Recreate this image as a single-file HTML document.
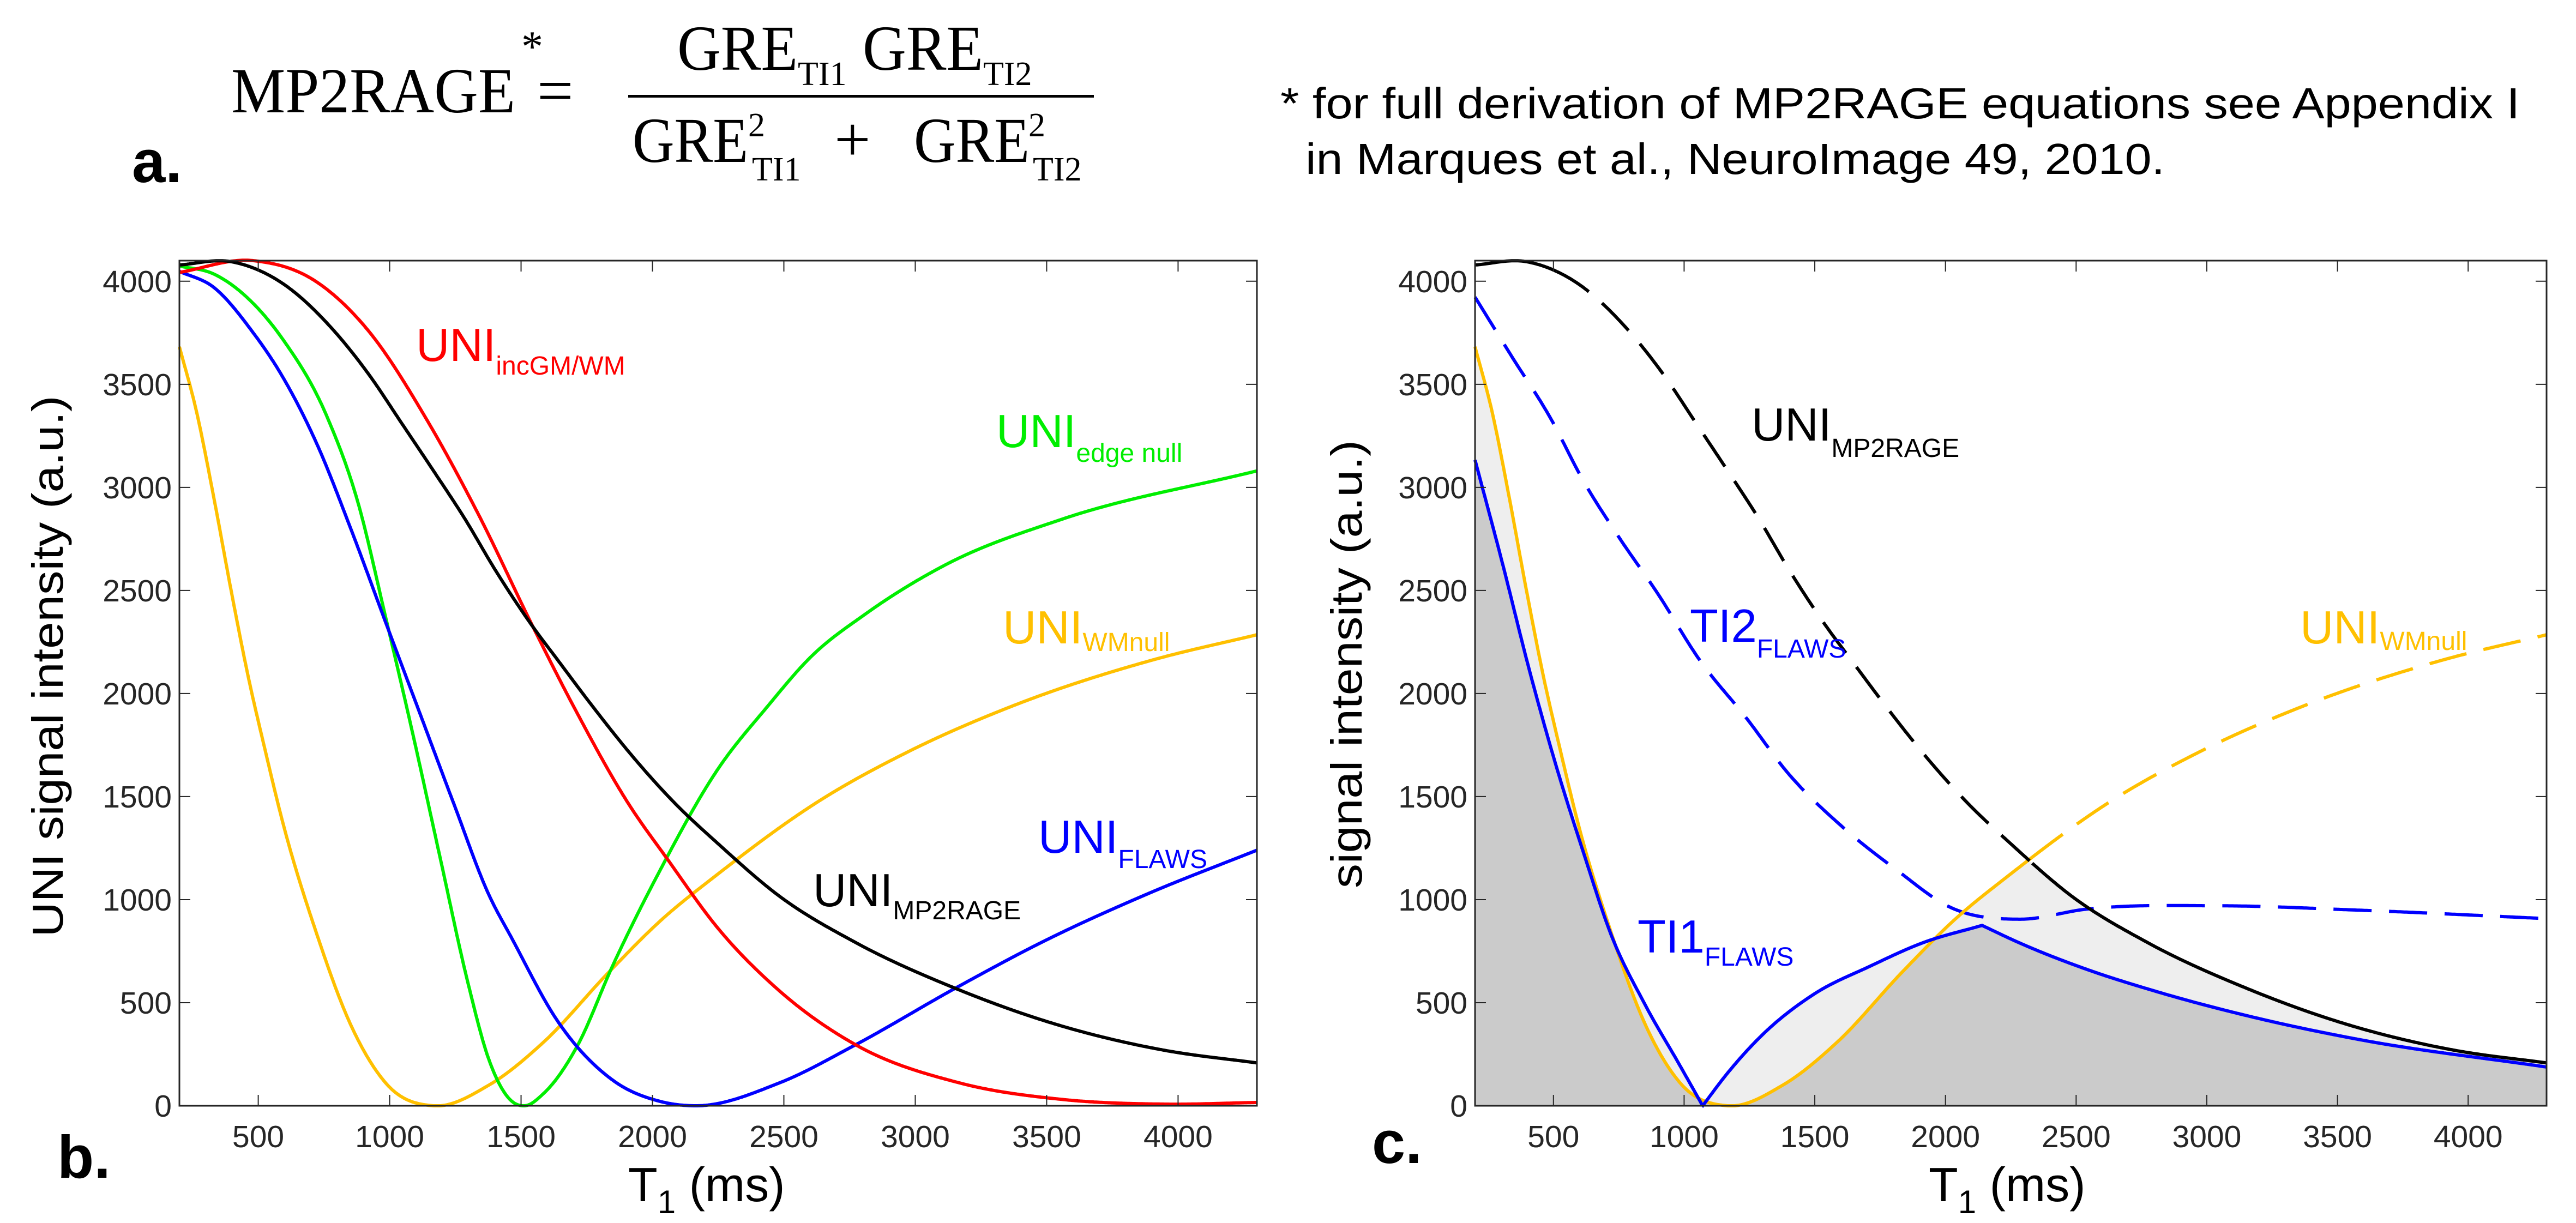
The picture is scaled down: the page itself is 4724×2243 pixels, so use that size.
<!DOCTYPE html>
<html><head><meta charset="utf-8"><style>
html,body{margin:0;padding:0;background:#fff}
svg{display:block}
text{font-family:"Liberation Sans",sans-serif}
.serif{font-family:"Liberation Serif",serif}
.tick{font-size:57px;fill:#262626}
</style></head><body>
<svg id="fig" width="4724" height="2243" viewBox="0 0 4724 2243" xmlns="http://www.w3.org/2000/svg">
<g>
<text x="242" y="334" font-size="110" font-weight="bold">a.</text>
<text class="serif" x="424" y="206" font-size="118" textLength="521" lengthAdjust="spacingAndGlyphs">MP2RAGE</text>
<text class="serif" x="956" y="112" font-size="80">*</text>
<text class="serif" x="985" y="206" font-size="118">=</text>
<rect x="1152" y="174" width="854" height="5" fill="#000"/>
<g>
<text class="serif" x="1242" y="128" font-size="118" textLength="221" lengthAdjust="spacingAndGlyphs">GRE</text>
<text class="serif" x="1463" y="156" font-size="62">TI1</text>
<text class="serif" x="1582" y="128" font-size="118" textLength="221" lengthAdjust="spacingAndGlyphs">GRE</text>
<text class="serif" x="1803" y="156" font-size="62">TI2</text>
</g>
<g>
<text class="serif" x="1160" y="297" font-size="118" textLength="212" lengthAdjust="spacingAndGlyphs">GRE</text>
<text class="serif" x="1372" y="250" font-size="62">2</text>
<text class="serif" x="1379" y="331" font-size="62">TI1</text>
<text class="serif" x="1530" y="295" font-size="118">+</text>
<text class="serif" x="1676" y="297" font-size="118" textLength="212" lengthAdjust="spacingAndGlyphs">GRE</text>
<text class="serif" x="1886" y="250" font-size="62">2</text>
<text class="serif" x="1894" y="331" font-size="62">TI2</text>
</g>
<text x="2348" y="217" font-size="80" textLength="2273" lengthAdjust="spacingAndGlyphs">* for full derivation of MP2RAGE equations see Appendix I</text>
<text x="2394" y="319" font-size="80" textLength="1576" lengthAdjust="spacingAndGlyphs">in Marques et al., NeuroImage 49, 2010.</text>
</g>
<g id="chartB"></g>
<g id="chartC"></g>
</svg>
<script>
// ---------- data (T1 in ms, signal a.u.) ----------
const xTicks = [500,1000,1500,2000,2500,3000,3500,4000];
const yTicks = [0,500,1000,1500,2000,2500,3000,3500,4000];

const mp2rageT = [200,396,592,788,919,1050,1167,1285,1403,1546,1638,1769,1925,2082,2250,2485,2773,3152,3557,3949,4300];
const mp2rageV = [4079,4095,3990,3760,3551,3303,3080,2850,2597,2322,2165,1943,1694,1472,1271,1015,792,570,387,269,208];

const incT = [200,480,723,919,1141,1337,1546,1703,1912,2056,2250,2472,2773,3165,3557,3949,4300];
const incV = [4043,4100,3996,3760,3329,2871,2322,1930,1459,1198,860,570,296,112,31,8,16];

const edgeT = [200,331,461,592,762,880,984,1089,1193,1298,1376,1455,1514,1586,1716,1847,2030,2250,2433,2603,2812,3113,3557,4300];
const edgeV = [4074,4035,3917,3721,3342,2924,2374,1799,1198,596,230,34,0,60,295,675,1145,1635,1930,2178,2387,2623,2845,3080];

const wmT = [200,265,331,396,461,527,592,723,854,984,1167,1376,1586,1834,2030,2250,2642,2969,3361,3910,4300];
const wmV = [3682,3368,2950,2505,2087,1721,1381,832,387,112,0,99,309,648,897,1125,1485,1715,1935,2165,2285];

const flawsT = [200,331,475,592,723,854,984,1115,1246,1376,1468,1638,1847,2030,2160,2485,2773,3152,3492,3884,4300];
const flawsV = [4048,3970,3760,3538,3211,2793,2348,1904,1459,1028,805,413,126,21,0,112,296,570,800,1028,1240];

const ti2T = [200,343,486,616,746,902,1058,1240,1396,1604,1812,2020,2280,2540,3060,3580,4300];
const ti2V = [3923,3630,3342,3028,2767,2479,2165,1878,1616,1355,1145,962,905,954,970,949,908];

// solid blue (TI1 FLAWS) in three pieces: fall to null, rise, fall
const ti1FallT = [200,304,408,512,616,720,850,980,1071];
const ti1FallV = [3133,2636,2113,1642,1224,832,492,204,0];
const ti1RiseT = [1071,1162,1292,1500,1708,1916,2140];
const ti1RiseV = [0,152,335,544,675,792,875];
const ti1TailT = [2140,2280,2540,2800,3190,3580,4300];
const ti1TailV = [875,792,662,557,426,322,188];

// ---------- helpers ----------
const NS="http://www.w3.org/2000/svg";
function mk(tag, attrs, parent){const e=document.createElementNS(NS,tag);for(const k in attrs)e.setAttribute(k,attrs[k]);if(parent)parent.appendChild(e);return e;}
function interp(xs, ys){ // cubic Hermite with three-point slopes
  const n=xs.length, d=[], m=[];
  for(let i=0;i<n-1;i++) d.push((ys[i+1]-ys[i])/(xs[i+1]-xs[i]));
  m[0]=d[0]; m[n-1]=d[n-2];
  for(let i=1;i<n-1;i++){ const h0=xs[i]-xs[i-1], h1=xs[i+1]-xs[i]; m[i]=(h1*d[i-1]+h0*d[i])/(h0+h1); }
  return function(t){
    if(t<=xs[0]) return ys[0]; if(t>=xs[n-1]) return ys[n-1];
    let i=0; while(i<n-2 && t>xs[i+1]) i++;
    const h=xs[i+1]-xs[i], s=(t-xs[i])/h, s2=s*s, s3=s2*s;
    return (2*s3-3*s2+1)*ys[i]+(s3-2*s2+s)*h*m[i]+(-2*s3+3*s2)*ys[i+1]+(s3-s2)*h*m[i+1];
  };
}
function piecewise(parts){ // parts: [[T,f],...]
  return t=>{ for(const [T,f] of parts){ if(t<=T[T.length-1]) return f(t);} const l=parts[parts.length-1]; return l[1](t); };
}
function axes(x0, x1, y0, y1){
  const sx=t=>x0+(t-200)/(4300-200)*(x1-x0);
  const sy=v=>y0-(v/4100)*(y0-y1);
  return {sx,sy};
}
function path(f, sx, sy, t0, t1){
  let d=""; for(let t=t0;t<=t1+0.01;t+=4){ d+=(d?"L":"M")+sx(t).toFixed(1)+","+sy(Math.max(0,f(t))).toFixed(1); }
  return d;
}
function frame(g, sx, sy, x0, x1, y0, y1, ylabel, ylx, yly, ylen, panel, px, py, xlx){
  mk("rect",{x:x0,y:y1,width:x1-x0,height:y0-y1,fill:"none",stroke:"#262626","stroke-width":3},g);
  for(const t of xTicks){
    const tk=mk("path",{d:`M${sx(t)},${y0}v-20M${sx(t)},${y1}v20`,stroke:"#262626","stroke-width":2},g);
    
    
    const lb=mk("text",{x:sx(t),y:2104,"text-anchor":"middle",class:"tick"},g); lb.textContent=t;
    
    
  }
  for(const v of yTicks){
    const tk=mk("path",{d:`M${x0},${sy(v)}h20M${x1},${sy(v)}h-20`,stroke:"#262626","stroke-width":2},g);
    
    
    const lb=mk("text",{x:x0-14,y:sy(v)+20,"text-anchor":"end",class:"tick"},g); lb.textContent=v;
    
    
  }
  const yl=mk("text",{x:0,y:0,"font-size":80,"text-anchor":"middle",textLength:ylen,lengthAdjust:"spacingAndGlyphs",transform:`translate(${ylx},${yly}) rotate(-90)`},g);
  yl.textContent=ylabel;
  
  
  const xl=mk("text",{x:xlx,y:2203,"font-size":88},g);
  xl.innerHTML='T<tspan font-size="60" dy="22">1</tspan><tspan dy="-22"> (ms)</tspan>';
  
  
  const pl=mk("text",{x:px,y:py,"font-size":110,"font-weight":"bold"},g); pl.textContent=panel;
  
  
}
function label(g, x, y, main, sub, subdy, color, name){
  const t=mk("text",{x:x,y:y,"font-size":85,fill:color},g);
  t.innerHTML=main+`<tspan font-size="48" dy="${subdy}">${sub}</tspan>`;
  
  
}

// ---------- chart b ----------
(function(){
  const g=document.getElementById("chartB");
  const x0=329,x1=2305,y0=2028,y1=478;
  const {sx,sy}=axes(x0,x1,y0,y1);
  const series=[[wmT,wmV,"#ffc000","series-uni-wmnull"],[edgeT,edgeV,"#00ee00","series-uni-edge-null"],[flawsT,flawsV,"#0000ff","series-uni-flaws"],[incT,incV,"#ff0000","series-uni-incgm-wm"],[mp2rageT,mp2rageV,"#000000","series-uni-mp2rage"]];
  for(const [T,V,c,n] of series){
    const p=mk("path",{d:path(interp(T,V),sx,sy,200,4300),fill:"none",stroke:c,"stroke-width":6},g);
    
    
  }
  frame(g,sx,sy,x0,x1,y0,y1,"UNI signal intensity (a.u.)",115,1222,993,"b.",105,2160,1152);
  label(g,763,662,"UNI","incGM/WM",25,"#ff0000","label-uni-incgm-wm");
  label(g,1827,820,"UNI","edge null",27,"#00ee00","label-uni-edge-null");
  label(g,1839,1180,"UNI","WMnull",14,"#ffc000","label-uni-wmnull-b");
  label(g,1904,1564,"UNI","FLAWS",28,"#0000ff","label-uni-flaws");
  label(g,1491,1662,"UNI","MP2RAGE",24,"#000000","label-uni-mp2rage-b");
})();

// ---------- chart c ----------
(function(){
  const g=document.getElementById("chartC");
  const x0=2705,x1=4670,y0=2028,y1=478;
  const {sx,sy}=axes(x0,x1,y0,y1);
  const fB=interp(mp2rageT,mp2rageV), fO=interp(wmT,wmV), f2=interp(ti2T,ti2V);
  const f1=piecewise([[ti1FallT,interp(ti1FallT,ti1FallV)],[ti1RiseT,interp(ti1RiseT,ti1RiseV)],[ti1TailT,interp(ti1TailT,ti1TailV)]]);
  const up=t=>Math.min(fB(t),Math.max(fO(t),f1(t)));
  const lo=t=>Math.max(0,Math.min(fO(t),f1(t)));
  function area(fTop,fill,name){
    let d="";for(let t=200;t<=4300;t+=4)d+=(d?"L":"M")+sx(t).toFixed(1)+","+sy(Math.max(0,fTop(t))).toFixed(1);
    d+=`L${sx(4300)},${sy(0)}L${sx(200)},${sy(0)}Z`;
    const p=mk("path",{d:d,fill:fill},g);
    
    
  }
  area(up,"#eeeeee","light-gray-area");
  area(lo,"#cbcbcb","dark-gray-area");
  const dash="70 32";
  const segs=[
    [f2,200,4300,"#0000ff",dash,"series-ti2-flaws"],
    [fO,200,2332,"#ffc000",null,"series-uni-wmnull-solid"],
    [fO,2332,4300,"#ffc000",dash,"series-uni-wmnull-dashed"],
    [f1,200,4300,"#0000ff",null,"series-ti1-flaws"],
    [fB,200,512,"#000000",null,"series-uni-mp2rage-solid-start"],
    [fB,512,2332,"#000000",dash,"series-uni-mp2rage-dashed"],
    [fB,2332,4300,"#000000",null,"series-uni-mp2rage-solid-end"]];
  for(const [f,a,b,c,da,n] of segs){
    const at={d:path(f,sx,sy,a,b),fill:"none",stroke:c,"stroke-width":6};
    if(da) at["stroke-dasharray"]=da;
    const p=mk("path",at,g);
    
    
  }
  frame(g,sx,sy,x0,x1,y0,y1,"signal intensity (a.u.)",2497,1218,822,"c.",2516,2133,3537);
  label(g,3212,808,"UNI","MP2RAGE",30,"#000000","label-uni-mp2rage-c");
  label(g,3099,1177,"TI2","FLAWS",29,"#0000ff","label-ti2-flaws");
  label(g,4218,1180,"UNI","WMnull",12,"#ffc000","label-uni-wmnull-c");
  label(g,3003,1747,"TI1","FLAWS",24,"#0000ff","label-ti1-flaws");
})();
</script>
</body></html>
